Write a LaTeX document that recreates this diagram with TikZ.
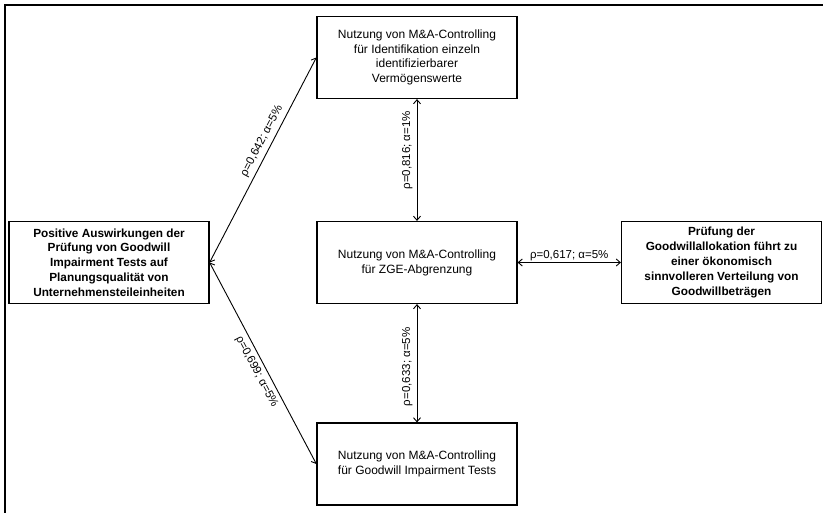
\documentclass[tikz,border=0pt]{standalone}
\usepackage{fontspec}
\setmainfont{Liberation Sans}
\usetikzlibrary{arrows.meta, positioning}

\begin{document}
\begin{tikzpicture}[
  x=1pt, y=-1pt,
  every node/.style={font=\fontsize{12}{14.8}\selectfont},
  usebox/.style={rectangle, draw, line width=1.2pt, minimum width=200pt, minimum height=82pt, align=center, inner sep=2pt},
  effectbox/.style={usebox, font=\fontsize{11.8}{14.8}\selectfont\bfseries},
  corr/.style={{Straight Barb[length=4pt,width=7pt]}-{Straight Barb[length=4pt,width=7pt]}, line width=0.9pt},
  corrlabel/.style={font=\fontsize{11.5}{13}\selectfont, sloped, inner sep=4pt},
]
\useasboundingbox (0,0) rectangle (823,513);

% scan frame
\draw[line width=1.3pt] (5,513) -- (5,5) -- (823,5);

% M&A-Controlling usage
\node[usebox] (ident) at (417, 57.5) {Nutzung von M\&A-Controlling\\für Identifikation einzeln\\identifizierbarer\\Vermögenswerte};
\node[usebox] (zge) at (417, 262.5) {Nutzung von M\&A-Controlling\\für ZGE-Abgrenzung};
\node[usebox] (gwit) at (417, 464) {Nutzung von M\&A-Controlling\\für Goodwill Impairment Tests};

% effects
\node[effectbox] (plan) at (109, 262.5) {Positive Auswirkungen der\\Prüfung von Goodwill\\Impairment Tests auf\\Planungsqualität von\\Unternehmensteileinheiten};
\node[effectbox] (alloc) at (721.5, 262.5) {Prüfung der\\Goodwillallokation führt zu\\einer ökonomisch\\sinnvolleren Verteilung von\\Goodwillbeträgen};

% correlations
\draw[corr] (plan.east) -- node[corrlabel, above, pos=0.57] {ρ=0,642; α=5\%} (ident.west);
\draw[corr] (plan.east) -- node[corrlabel, below, pos=0.52] {ρ=0,699; α=5\%} (gwit.west);
\draw[corr] (zge.north) -- node[corrlabel, above, pos=0.58] {ρ=0,816; α=1\%} (ident.south);
\draw[corr] (gwit.north) -- node[corrlabel, above, pos=0.47] {ρ=0,633; α=5\%} (zge.south);
\draw[corr] (zge.east) -- node[corrlabel, above, inner sep=1.5pt] {ρ=0,617; α=5\%} (alloc.west);

\end{tikzpicture}
\end{document}
